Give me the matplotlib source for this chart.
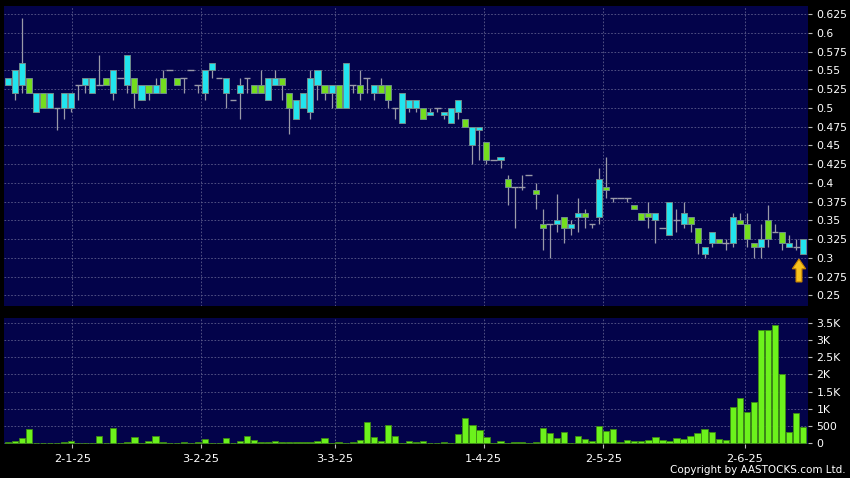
"""
Daily candlestick chart with volume panel (AASTOCKS style).
"""

import numpy as np
import matplotlib
matplotlib.use("Agg")
import matplotlib.pyplot as plt
from matplotlib.patches import Polygon

# ─── Data ─────────────────────────────────────────────────────────────────────
OPEN = [0.53, 0.52, 0.53, 0.54, 0.495, 0.52, 0.50, 0.50, 0.50, 0.50,
        0.53, 0.53, 0.52, 0.53, 0.54, 0.52, 0.54, 0.53, 0.54, 0.51,
        0.53, 0.52, 0.54, 0.55, 0.54, 0.54, 0.55, 0.53, 0.52, 0.55,
        0.54, 0.52, 0.51, 0.52, 0.54, 0.53, 0.53, 0.51, 0.53, 0.54,
        0.52, 0.485, 0.50, 0.495, 0.53, 0.53, 0.52, 0.53, 0.50, 0.53,
        0.53, 0.54, 0.52, 0.53, 0.53, 0.50, 0.48, 0.50, 0.50, 0.50,
        0.49, 0.50, 0.49, 0.48, 0.495, 0.485, 0.45, 0.47, 0.455, 0.43,
        0.43, 0.405, 0.395, 0.395, 0.41, 0.39, 0.345, 0.345, 0.345, 0.355,
        0.34, 0.355, 0.36, 0.345, 0.355, 0.395, 0.38, 0.38, 0.38, 0.37,
        0.36, 0.36, 0.35, 0.34, 0.33, 0.35, 0.345, 0.355, 0.34, 0.305,
        0.32, 0.325, 0.32, 0.32, 0.35, 0.345, 0.32, 0.315, 0.35, 0.335,
        0.335, 0.315, 0.315, 0.305]
HIGH = [0.54, 0.55, 0.62, 0.54, 0.52, 0.52, 0.52, 0.50, 0.52, 0.52,
        0.53, 0.54, 0.54, 0.57, 0.54, 0.55, 0.54, 0.57, 0.54, 0.53,
        0.53, 0.54, 0.55, 0.55, 0.54, 0.54, 0.55, 0.53, 0.55, 0.56,
        0.54, 0.54, 0.51, 0.54, 0.54, 0.53, 0.55, 0.54, 0.55, 0.54,
        0.52, 0.51, 0.52, 0.55, 0.55, 0.53, 0.53, 0.53, 0.56, 0.53,
        0.55, 0.54, 0.53, 0.54, 0.53, 0.50, 0.52, 0.51, 0.51, 0.50,
        0.50, 0.50, 0.495, 0.50, 0.51, 0.485, 0.475, 0.475, 0.455, 0.43,
        0.435, 0.41, 0.395, 0.41, 0.41, 0.40, 0.365, 0.345, 0.385, 0.355,
        0.35, 0.38, 0.365, 0.345, 0.42, 0.435, 0.38, 0.38, 0.38, 0.37,
        0.36, 0.375, 0.36, 0.34, 0.375, 0.365, 0.375, 0.355, 0.34, 0.315,
        0.335, 0.325, 0.325, 0.36, 0.36, 0.36, 0.32, 0.345, 0.37, 0.345,
        0.335, 0.33, 0.325, 0.325]
LOW = [0.53, 0.51, 0.52, 0.52, 0.495, 0.50, 0.50, 0.47, 0.485, 0.495,
       0.51, 0.52, 0.52, 0.53, 0.53, 0.51, 0.54, 0.52, 0.50, 0.51,
       0.51, 0.52, 0.52, 0.55, 0.53, 0.52, 0.55, 0.52, 0.51, 0.54,
       0.54, 0.50, 0.51, 0.485, 0.52, 0.52, 0.52, 0.51, 0.53, 0.51,
       0.465, 0.485, 0.50, 0.485, 0.51, 0.51, 0.50, 0.50, 0.50, 0.52,
       0.51, 0.52, 0.51, 0.52, 0.50, 0.485, 0.48, 0.495, 0.495, 0.485,
       0.49, 0.495, 0.485, 0.48, 0.485, 0.475, 0.425, 0.43, 0.425, 0.43,
       0.42, 0.37, 0.34, 0.39, 0.41, 0.365, 0.31, 0.30, 0.335, 0.32,
       0.33, 0.335, 0.34, 0.34, 0.345, 0.38, 0.375, 0.38, 0.375, 0.365,
       0.35, 0.34, 0.32, 0.34, 0.33, 0.335, 0.34, 0.335, 0.305, 0.30,
       0.315, 0.32, 0.31, 0.315, 0.345, 0.315, 0.30, 0.30, 0.315, 0.335,
       0.31, 0.315, 0.31, 0.305]
CLOSE = [0.54, 0.55, 0.56, 0.52, 0.52, 0.50, 0.52, 0.50, 0.52, 0.52,
         0.53, 0.54, 0.54, 0.53, 0.53, 0.55, 0.54, 0.57, 0.52, 0.53,
         0.52, 0.53, 0.52, 0.55, 0.53, 0.54, 0.55, 0.53, 0.55, 0.56,
         0.54, 0.54, 0.51, 0.53, 0.54, 0.52, 0.52, 0.54, 0.54, 0.53,
         0.50, 0.51, 0.52, 0.54, 0.55, 0.52, 0.53, 0.50, 0.56, 0.53,
         0.52, 0.54, 0.53, 0.52, 0.51, 0.50, 0.52, 0.51, 0.51, 0.485,
         0.495, 0.50, 0.495, 0.50, 0.51, 0.475, 0.475, 0.475, 0.43, 0.43,
         0.435, 0.395, 0.395, 0.395, 0.41, 0.385, 0.34, 0.345, 0.35, 0.34,
         0.345, 0.36, 0.355, 0.345, 0.405, 0.39, 0.38, 0.38, 0.38, 0.365,
         0.35, 0.355, 0.36, 0.34, 0.375, 0.35, 0.36, 0.345, 0.32, 0.315,
         0.335, 0.32, 0.32, 0.355, 0.345, 0.325, 0.315, 0.325, 0.325, 0.335,
         0.32, 0.32, 0.315, 0.325]
VOLUME = [35, 70, 150, 410, 5, 5, 5, 5, 40, 70,
          5, 20, 20, 205, 5, 430, 5, 40, 190, 5,
          60, 225, 40, 5, 5, 40, 5, 40, 120, 5,
          5, 157, 5, 60, 205, 90, 40, 40, 70, 40,
          40, 40, 40, 40, 70, 157, 5, 40, 5, 40,
          100, 620, 180, 70, 540, 210, 5, 70, 40, 70,
          5, 5, 40, 5, 270, 725, 530, 390, 186, 5,
          65, 5, 40, 40, 5, 40, 435, 308, 146, 335,
          10, 218, 120, 60, 495, 360, 427, 25, 97, 58,
          58, 107, 170, 88, 78, 155, 136, 204, 311, 412,
          330, 116, 97, 1068, 1310, 917, 1185, 3295, 3295, 3437,
          2010, 335, 878, 466]

DATE_POS    = [9.2, 27.4, 46.5, 67.6, 84.6, 104.7]
DATE_LABELS = ["2-1-25", "3-2-25", "3-3-25", "1-4-25", "2-5-25", "2-6-25"]

PRICE_TICKS  = [0.25, 0.275, 0.3, 0.325, 0.35, 0.375, 0.4, 0.425, 0.45,
                0.475, 0.5, 0.525, 0.55, 0.575, 0.6, 0.625]
PRICE_LABELS = ["0.25", "0.275", "0.3", "0.325", "0.35", "0.375", "0.4",
                "0.425", "0.45", "0.475", "0.5", "0.525", "0.55", "0.575",
                "0.6", "0.625"]
VOL_TICKS  = [0, 500, 1000, 1500, 2000, 2500, 3000, 3500]
VOL_LABELS = ["0", "500", "1K", "1.5K", "2K", "2.5K", "3K", "3.5K"]

# ─── Style ────────────────────────────────────────────────────────────────────
BG_OUT    = "black"
BG_PLOT   = "#03034a"
UP_COLOR  = "#22e4ee"
DN_COLOR  = "#74dd1e"
VOL_COLOR = "#6cf21c"
WICK      = "#9a9aa8"
GRID      = "#5c5c8c"
TXT       = "white"
FS        = 7.8

o = np.array(OPEN)
h = np.array(HIGH)
l = np.array(LOW)
c = np.array(CLOSE)
v = np.array(VOLUME)
idx = np.arange(len(o))

# ─── Figure ───────────────────────────────────────────────────────────────────
fig = plt.figure(figsize=(8.5, 4.78), dpi=100, facecolor=BG_OUT)
ax  = fig.add_axes([4 / 850, 1 - 306 / 478, 804 / 850, 300 / 478])
axv = fig.add_axes([4 / 850, 1 - 444 / 478, 804 / 850, 126 / 478])

for a in (ax, axv):
    a.set_facecolor(BG_PLOT)
    for s in a.spines.values():
        s.set_visible(False)
    a.set_xlim(-0.53, 113.68)
    a.set_xticks(DATE_POS)
    a.yaxis.tick_right()
    a.tick_params(axis="y", direction="out", length=3, width=0.8,
                  color="#bbbbbb", pad=3, labelsize=FS, labelcolor=TXT)
    a.grid(True, color=GRID, linestyle=(0, (2, 2)), linewidth=0.6)
    a.set_axisbelow(True)

# ── Candles ──────────────────────────────────────────────────────────────────
ax.vlines(idx, l, h, color=WICK, linewidth=0.9, zorder=2)
body = c != o
up   = c > o
ax.bar(idx[body], np.abs(c - o)[body], bottom=np.minimum(o, c)[body],
       width=0.86, color=np.where(up, UP_COLOR, DN_COLOR)[body],
       edgecolor="#6f8c8c", linewidth=0.7, zorder=3)
ax.hlines(c[~body], idx[~body] - 0.48, idx[~body] + 0.48,
          color=WICK, linewidth=1.0, zorder=3)

ax.set_ylim(0.2357, 0.6357)
ax.set_yticks(PRICE_TICKS)
ax.set_yticklabels(PRICE_LABELS)
ax.tick_params(axis="x", length=0, labelbottom=False)

# ── Marker arrow below the latest candle ─────────────────────────────────────
cx, tip = idx[-1] - 0.6, l[-1] - 0.0067
arrow = Polygon([(cx, tip), (cx + 0.95, tip - 0.013), (cx + 0.42, tip - 0.013),
                 (cx + 0.42, tip - 0.0305), (cx - 0.42, tip - 0.0305),
                 (cx - 0.42, tip - 0.013), (cx - 0.95, tip - 0.013)],
                closed=True, facecolor="#f6c21e", edgecolor="#c98400",
                linewidth=0.8, zorder=4)
ax.add_patch(arrow)

# ── Volume ───────────────────────────────────────────────────────────────────
axv.bar(idx, v, width=0.9, color=VOL_COLOR, edgecolor="#3e8a14",
        linewidth=0.6, zorder=3)
axv.set_ylim(-20, 3636)
axv.set_yticks(VOL_TICKS)
axv.set_yticklabels(VOL_LABELS)
axv.set_xticklabels(DATE_LABELS)
axv.tick_params(axis="x", direction="out", length=3, width=0.8,
                color="#bbbbbb", pad=4, labelsize=FS + 0.4, labelcolor=TXT)

fig.text(0.995, 1 - 470 / 478, "Copyright by AASTOCKS.com Ltd.",
         ha="right", va="center", fontsize=FS - 0.3, color=TXT)

fig.savefig("out.png", dpi=100, facecolor=BG_OUT)
